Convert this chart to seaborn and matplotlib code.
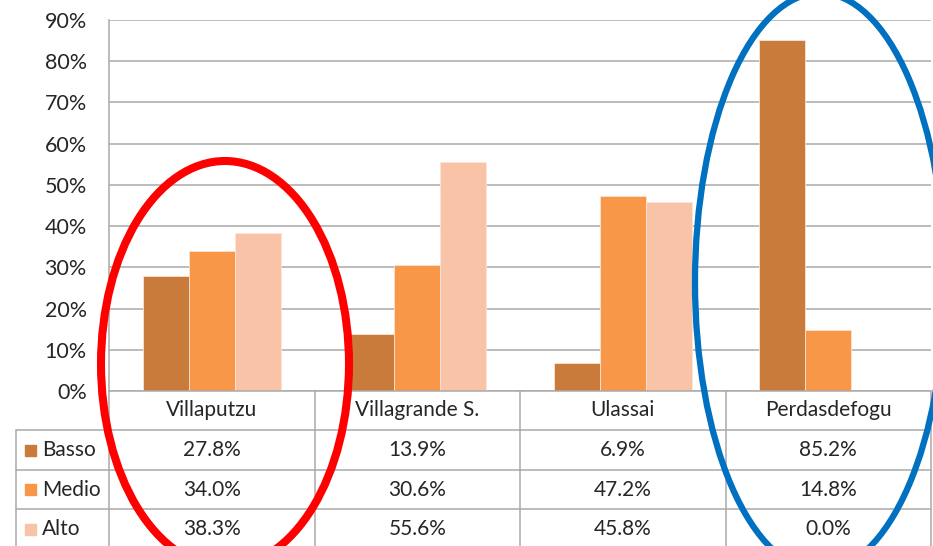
import matplotlib
matplotlib.use("Agg")
import matplotlib.pyplot as plt
from matplotlib.patches import Ellipse, Rectangle
from matplotlib.ticker import PercentFormatter
import numpy as np
import pandas as pd
import seaborn as sns

# data
categories = ["Villaputzu", "Villagrande S.", "Ulassai", "Perdasdefogu"]
levels = ["Basso", "Medio", "Alto"]
basso = [27.8, 13.9, 6.9, 85.2]
medio = [34.0, 30.6, 47.2, 14.8]
alto = [38.3, 55.6, 45.8, 0.0]

colors = ["#C97B3B", "#F79747", "#F9C3A7"]

df = pd.DataFrame({
    "comune": categories * 3,
    "livello": [lv for lv in levels for _ in categories],
    "valore": np.array(basso + medio + alto) / 100,
})

sns.set_theme(style="white")
plt.rcParams["font.family"] = ["Lato", "DejaVu Sans"]
text_col = "#262626"
grid_col = "#AAAAAA"

W, H = 933, 546
fig = plt.figure(figsize=(W / 100, H / 100), dpi=100)

# layout in pixels
L, R, TOP, BASE = 109, 931, 20, 391
rows_y = [391, 430, 470, 509, 549]
HL = 16

ax = fig.add_axes([L / W, 1 - BASE / H, (R - L) / W, (BASE - TOP) / H])
sns.barplot(data=df, x="comune", y="valore", hue="livello", order=categories,
            hue_order=levels, palette=colors, width=0.67, ax=ax, legend=False,
            edgecolor="#FCE4D6", linewidth=0.6, saturation=1)
ax.set_xlim(-0.5, 3.5)
ax.set_ylim(0, 0.9)
ax.set_yticks(np.arange(0, 0.91, 0.1))
ax.yaxis.set_major_formatter(PercentFormatter(1.0, decimals=0))
ax.tick_params(axis="y", labelsize=15.5, colors=text_col, pad=16, length=0)
ax.set_xticks([])
ax.set_xlabel("")
ax.set_ylabel("")
ax.grid(axis="y", color=grid_col, linewidth=1.1)
ax.set_axisbelow(True)
for s in ["top", "right", "bottom"]:
    ax.spines[s].set_visible(False)
ax.spines["left"].set_color(grid_col)
ax.spines["left"].set_linewidth(1.1)

# overlay in pixel coordinates for the data table and the ellipses
ov = fig.add_axes([0, 0, 1, 1], facecolor="none")
ov.set_xlim(0, W)
ov.set_ylim(H, 0)
ov.axis("off")

col_w = (R - L) / len(categories)
lk = dict(color=grid_col, linewidth=1.1)
# horizontal lines
ov.plot([L, R], [rows_y[0], rows_y[0]], **lk)
for y in rows_y[1:4]:
    ov.plot([HL, R], [y, y], **lk)
# vertical lines
for i in range(len(categories) + 1):
    ov.plot([L + i * col_w] * 2, [rows_y[0], H], **lk)
ov.plot([HL, HL], [rows_y[1], H], **lk)

# header row
for i, c in enumerate(categories):
    ov.text(L + (i + 0.5) * col_w, (rows_y[0] + rows_y[1]) / 2, c,
            ha="center", va="center", fontsize=15, color=text_col)

series = [basso, medio, alto]
for r, (lv, vals, col) in enumerate(zip(levels, series, colors)):
    yc = (rows_y[r + 1] + rows_y[r + 2]) / 2
    ov.add_patch(Rectangle((25, yc - 5.5), 11, 11, color=col))
    ov.text(42, yc, lv, ha="left", va="center", fontsize=15, color=text_col)
    for i, v in enumerate(vals):
        ov.text(L + (i + 0.5) * col_w, yc, f"{v:.1f}%", ha="center",
                va="center", fontsize=15, color=text_col)

# highlight ellipses
ov.add_patch(Ellipse((225, 364), 248, 406, fill=False, edgecolor="#FF0000",
                     linewidth=5.8, zorder=10))
ov.add_patch(Ellipse((820, 282), 250, 578, fill=False, edgecolor="#0070C0",
                     linewidth=4.5, zorder=10))

fig.savefig("out.png", dpi=100)
